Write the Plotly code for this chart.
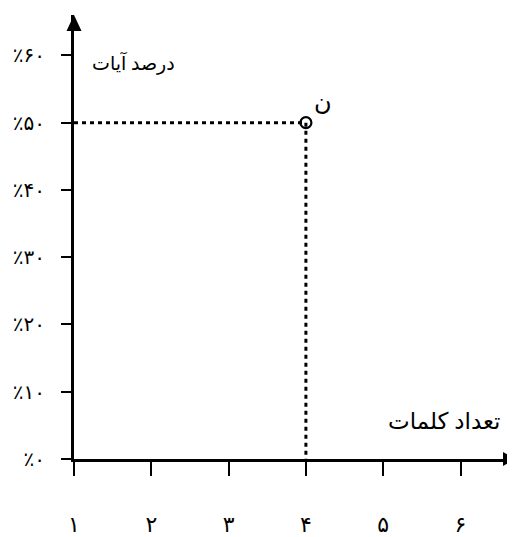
import plotly.graph_objects as go

# Data
x_vals = [1, 2, 3, 4, 5, 6]
x_labels = ["۱", "۲", "۳", "۴", "۵", "۶"]
y_vals = [0, 10, 20, 30, 40, 50, 60]
y_labels = ["٪۰", "٪۱۰", "٪۲۰", "٪۳۰", "٪۴۰", "٪۵۰", "٪۶۰"]
point_x = [4]
point_y = [50]
point_label = ["ن"]
x_title = "تعداد کلمات"
y_title = "درصد آیات"

FONT = "Times New Roman, Liberation Serif, DejaVu Sans"

fig = go.Figure()

# dotted guide lines from the point to the axes
fig.add_trace(go.Scatter(
    x=[x_vals[0], point_x[0], point_x[0]],
    y=[point_y[0], point_y[0], y_vals[0]],
    mode="lines",
    line=dict(color="black", width=3, dash="4px,4px"),
    hoverinfo="skip", showlegend=False, cliponaxis=False,
))

# the point
fig.add_trace(go.Scatter(
    x=point_x, y=point_y, mode="markers",
    marker=dict(symbol="circle-open", size=11, color="black", line=dict(width=2.2, color="black")),
    showlegend=False, cliponaxis=False,
))

fig.add_annotation(x=point_x[0], y=point_y[0], text=point_label[0], showarrow=False,
                   xshift=17, yshift=21, font=dict(family=FONT, size=24, color="black"))

# axis titles
fig.add_annotation(xref="paper", yref="paper", x=0.036, y=0.893, xanchor="left", yanchor="middle",
                   text=y_title, showarrow=False, font=dict(family=FONT, size=19, color="black"))
fig.add_annotation(xref="paper", yref="paper", x=0.97, y=0.084, xanchor="right", yanchor="middle",
                   text=x_title, showarrow=False, font=dict(family=FONT, size=23, color="black"))

# arrow heads (pixel-sized, anchored to axis ends)
fig.add_shape(type="path", xref="paper", yref="paper", xsizemode="pixel", ysizemode="pixel",
              xanchor=0, yanchor=1, path="M -7.5 -16 L 7.5 -16 L 0 0 Z",
              fillcolor="black", line=dict(color="black", width=0))
fig.add_shape(type="path", xref="paper", yref="paper", xsizemode="pixel", ysizemode="pixel",
              xanchor=1, yanchor=0, path="M 0 0 L -12 7 L -12 -7 Z",
              fillcolor="black", line=dict(color="black", width=0))

fig.update_layout(
    width=507, height=529,
    margin=dict(l=66, r=0, t=7, b=72),
    paper_bgcolor="white", plot_bgcolor="white",
    font=dict(family=FONT, size=16, color="black"),
    xaxis=dict(range=[1, 1 + 441 / 77.3], tickmode="array", tickvals=x_vals, ticktext=x_labels,
               showline=True, linewidth=3, linecolor="black", showgrid=False, zeroline=False,
               ticks="outside", ticklen=14, tickwidth=2, tickcolor="black",
               ticklabelstandoff=30, tickfont=dict(size=22)),
    yaxis=dict(range=[0, 450 / 6.817], tickmode="array", tickvals=y_vals, ticktext=y_labels,
               showline=True, linewidth=3, linecolor="black", showgrid=False, zeroline=False,
               ticks="outside", ticklen=10, tickwidth=2, tickcolor="black",
               ticklabelstandoff=12, tickfont=dict(size=20)),
    showlegend=False,
)

fig.write_html("out.html")
